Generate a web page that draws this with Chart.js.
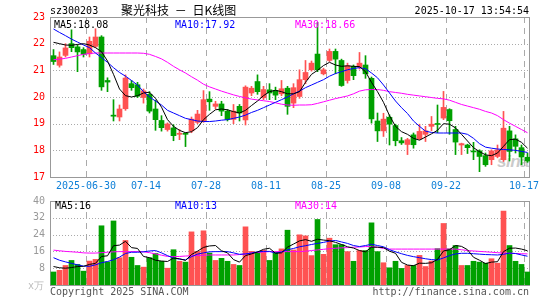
<!DOCTYPE html>
<html><head><meta charset="utf-8">
<script src="https://cdn.jsdelivr.net/npm/chart.js@4.4.1/dist/chart.umd.min.js"></script>
<style>
html,body{margin:0;padding:0;background:#fff;}
#wrap{position:relative;width:545px;height:300px;overflow:hidden;background:#fff;}
canvas{position:absolute;left:0;}
.t{position:absolute;font-family:"DejaVu Sans Mono",monospace;font-size:10px;line-height:12px;white-space:nowrap;}
.wm{position:absolute;left:497px;top:152px;font:italic bold 17px "Liberation Sans",Arial,sans-serif;color:rgba(185,185,185,0.75);letter-spacing:-0.5px;}
</style></head><body>
<div id="wrap">
 <div class="wm">sina</div>
 <canvas id="pc" width="545" height="196" style="top:0"></canvas>
 <canvas id="vc" width="545" height="120" style="top:180px"></canvas>
 <div class="t" style="left:50px;top:5px;color:#000">sz300203</div>
 <div class="t" style="left:121px;top:3px;font-family:'Noto Sans CJK SC',sans-serif;font-size:12px;line-height:14px;color:#000;word-spacing:3px">聚光科技 － 日K线图</div>
 <div class="t" style="right:16px;top:5px;color:#000">2025-10-17 13:54:54</div>
 <div class="t" style="left:54px;top:19px;color:#000">MA5:18.08</div>
 <div class="t" style="left:175px;top:19px;color:#0000ff">MA10:17.92</div>
 <div class="t" style="left:295px;top:19px;color:#ff00ff">MA30:18.66</div>
 <div class="t" style="left:55px;top:200px;color:#000">MA5:16</div>
 <div class="t" style="left:175px;top:200px;color:#0000ff">MA10:13</div>
 <div class="t" style="left:295px;top:200px;color:#ff00ff">MA30:14</div>
 <div class="t" style="left:28px;top:280px;color:#bbb">x万</div>
 <div class="t" style="left:50px;top:286px;color:#555">Copyright 2025 SINA.COM</div>
 <div class="t" style="right:16px;top:286px;color:#555">http://finance.sina.com.cn</div>
</div>
<script>
const dates = ['06-20','06-23','06-24','06-25','06-26','06-27','06-30',
 '07-01','07-02','07-03','07-04','07-07','07-08','07-09','07-10','07-11','07-14','07-15','07-16','07-17','07-18','07-21','07-22','07-23','07-24','07-25','07-28','07-29','07-30','07-31',
 '08-01','08-04','08-05','08-06','08-07','08-08','08-11','08-12','08-13','08-14','08-15','08-18','08-19','08-20','08-21','08-22','08-25','08-26','08-27','08-28','08-29',
 '09-01','09-02','09-03','09-04','09-05','09-08','09-09','09-10','09-11','09-12','09-15','09-16','09-17','09-18','09-19','09-22','09-23','09-24','09-25','09-26','09-29','09-30',
 '10-09','10-10','10-13','10-14','10-15','10-16','10-17'];
const tickDates  = ['06-30','07-14','07-28','08-11','08-25','09-08','09-22','10-17'];
const tickLabels = ['2025-06-30','07-14','07-28','08-11','08-25','09-08','09-22','10-17'];
const priceTicks = [17,18,19,20,21,22,23];
const volTicks = [0,8,16,24,32,40];

const open = [21.55,21.19,21.56,22.0,21.88,21.78,21.62,21.9,22.25,20.62, 19.32,19.25,19.56,20.5,20.46,19.98,20.1,19.55,19.12,18.78,
 18.84,18.6,18.63,18.73,19.05,19.1,19.92,19.65,19.74,19.47, 19.16,19.65,19.14,20.15,20.58,19.97,20.27,20.25,20.12,20.33,
 19.77,20.02,20.65,21.02,21.61,20.87,21.37,21.71,21.37,20.62, 21.15,21.12,21.2,20.7,19.1,18.73,19.24,18.93,18.36,18.22,
 18.58,18.43,18.6,18.9,19.0,19.21,19.53,18.78,18.2,18.2, 17.97,17.98,17.8,17.65,17.77,17.65,18.73,18.43,18.1,17.74];
const high = [21.78,21.69,22.0,22.52,21.95,21.85,22.25,22.56,22.3,20.72, 19.9,19.7,20.83,20.62,20.55,20.3,20.2,19.88,19.3,19.03,
 18.96,18.78,18.66,19.25,19.5,20.24,20.2,19.84,19.84,19.53, 19.72,19.72,20.42,20.4,20.83,20.4,20.5,20.37,20.62,20.4,
 20.5,21.02,21.37,21.35,22.8,21.08,21.8,21.8,21.42,21.27, 21.2,21.67,21.55,20.75,19.4,19.39,19.33,18.98,18.48,18.45,
 18.65,18.98,18.9,19.27,19.7,20.21,19.56,18.9,18.27,18.23, 18.3,18.02,17.9,18.02,18.2,19.46,18.9,18.58,18.2,17.9];
const low = [21.22,21.12,21.5,21.7,20.95,21.5,21.5,21.85,20.25,20.2, 19.1,19.1,19.5,20.25,19.98,19.77,19.4,18.75,18.72,18.72,
 18.36,18.4,18.14,18.66,19.0,19.05,19.5,19.55,19.3,19.1, 19.0,19.1,18.95,20.05,20.1,19.9,19.9,19.9,20.05,19.35,
 19.6,19.95,20.5,20.97,20.95,20.83,21.33,20.87,20.4,20.52, 20.65,21.05,20.7,19.02,18.33,18.52,18.2,18.17,18.22,17.84,
 18.08,18.4,18.33,18.73,18.66,19.15,18.6,17.84,17.84,17.88, 17.65,17.2,17.4,17.46,17.72,17.58,17.6,17.9,17.46,17.55];
const close = [21.33,21.5,21.84,21.85,21.69,21.6,22.09,22.25,20.38,20.56, 19.28,19.55,20.71,20.35,20.03,20.23,19.47,19.15,18.85,18.99,
 18.55,18.64,18.6,19.17,19.36,19.9,19.82,19.74,19.47,19.16, 19.47,19.4,20.37,20.33,20.2,20.28,20.15,20.07,20.31,19.65,
 20.35,20.65,20.92,21.27,21.02,21.02,21.71,21.42,20.43,21.17, 20.8,21.27,20.87,19.18,18.73,19.17,18.98,18.36,18.28,18.4,
 18.21,18.71,18.73,18.98,18.97,19.61,19.11,18.31,18.25,18.1, 17.94,17.77,17.46,17.98,18.02,18.83,17.96,18.15,17.75,17.6];
const ma5 = [22.05,22.0,21.95,21.94,21.97,22.0,21.95,21.85,21.7,21.35, 20.85,20.3,20.05,20.0,20.05,20.15,20.18,19.95,19.62,19.15,
 18.9,18.75,18.66,18.7,18.85,19.15,19.35,19.52,19.55,19.52, 19.45,19.4,19.5,19.68,19.85,20.05,20.2,20.25,20.2,20.12,
 20.12,20.2,20.55,20.85,21.0,21.18,21.3,21.2,21.15,21.17, 21.15,21.14,20.95,20.55,20.2,19.8,19.3,18.9,18.7,18.6,
 18.45,18.38,18.5,18.62,18.75,19.0,18.98,18.84,18.6,18.35, 18.1,17.95,17.83,17.8,17.9,18.15,18.4,18.42,18.3,18.08];
const ma10 = [22.55,22.42,22.3,22.17,22.06,21.95,21.85,21.65,21.48,21.3, 21.1,20.92,20.78,20.62,20.45,20.2,20.0,19.85,19.7,19.5,
 19.4,19.3,19.2,19.15,19.1,19.08,19.08,19.1,19.13,19.15, 19.2,19.25,19.32,19.42,19.5,19.6,19.7,19.8,19.9,20.0,
 20.12,20.22,20.35,20.45,20.55,20.65,20.78,20.88,20.95,21.02, 21.07,21.1,21.06,20.9,20.72,20.45,20.15,19.85,19.6,19.38,
 19.1,18.9,18.72,18.67,18.65,18.65,18.65,18.65,18.65,18.6, 18.45,18.25,18.12,18.08,18.05,18.03,18.02,18.0,17.96,17.92];
const ma30 = [21.4,21.42,21.45,21.5,21.55,21.6,21.63,21.65,21.65,21.65, 21.65,21.65,21.65,21.65,21.65,21.64,21.6,21.52,21.43,21.3,
 21.15,21.02,20.9,20.76,20.63,20.48,20.38,20.3,20.22,20.15, 20.08,20.02,19.97,19.92,19.89,19.86,19.83,19.78,19.73,19.7,
 19.69,19.7,19.7,19.71,19.76,19.82,19.88,19.94,19.99,20.04, 20.12,20.22,20.27,20.28,20.28,20.25,20.2,20.17,20.14,20.1,
 20.07,20.04,20.01,19.98,19.95,19.93,19.88,19.8,19.72,19.66, 19.6,19.54,19.46,19.4,19.3,19.15,19.02,18.9,18.78,18.66];
const volume = [6.2,7.0,9.3,11.7,9.8,6.6,11.4,12.2,28.2,11.0, 30.5,13.0,21.2,13.2,9.3,8.5,13.0,15.0,11.3,8.0,
 16.8,11.3,10.9,25.3,16.0,25.8,15.2,11.7,12.7,11.3, 9.8,9.3,27.7,16.0,15.6,16.5,11.7,15.5,17.2,26.1,
 16.7,23.9,23.4,14.0,31.2,14.6,22.3,19.2,19.2,15.9, 11.3,16.4,16.4,29.6,15.9,10.6,8.2,11.3,7.9,9.3,
 9.3,14.1,8.8,11.4,17.3,29.3,17.2,18.8,9.3,9.3, 11.3,10.9,10.4,12.5,10.4,35.2,18.8,11.3,9.8,6.2];
const volMa5 = [8.8,8.2,8.0,8.3,8.8,8.9,9.8,10.3,13.6,13.9, 18.7,19.0,20.8,17.8,17.4,13.6,13.0,11.8,11.4,11.2,
 12.8,12.5,11.7,14.5,16.1,17.9,18.6,18.8,16.3,15.3, 12.1,10.9,14.0,14.8,15.7,17.0,17.5,15.1,15.3,18.0,
 19.5,21.0,21.6,20.8,21.8,21.4,21.1,20.3,19.3,18.2, 17.6,16.4,15.8,18.0,18.0,17.8,16.1,15.1,10.8,9.5,
 9.2,10.4,10.3,10.6,12.2,16.2,16.8,18.8,18.4,16.8, 13.2,11.8,10.2,10.9,11.1,15.9,17.5,17.6,17.1,16.3];
const volMa10 = [13.0,11.8,11.0,10.3,9.6,9.0,8.9,9.6,10.6,11.2, 12.0,13.3,15.0,15.6,15.6,15.8,16.2,16.4,15.3,14.0,
 12.8,12.3,12.0,13.5,14.7,15.3,15.8,15.9,15.9,15.9, 15.3,14.6,14.8,15.2,15.8,16.0,16.0,15.2,15.7,16.8,
 17.4,18.2,18.7,19.3,19.8,20.3,20.9,21.2,20.5,19.8, 18.8,18.3,18.8,19.4,18.8,18.2,16.8,15.8,14.9,14.1,
 13.5,13.0,12.5,12.1,11.9,12.9,14.0,14.8,15.1,15.1, 14.9,14.7,14.5,14.4,14.3,14.6,15.2,15.0,14.3,13.7];
const volMa30 = [16.6,16.3,16.0,15.8,15.6,15.3,15.2,15.2,15.4,15.6, 15.8,15.9,15.9,15.9,15.9,15.8,15.4,14.8,14.2,13.6,
 13.5,13.6,13.8,13.9,14.0,14.2,14.3,14.3,14.3,14.3, 14.3,14.5,14.8,15.3,15.5,15.7,15.9,15.9,15.9,15.9,
 15.9,15.9,16.1,16.4,16.7,17.0,17.3,17.5,17.7,17.8, 18.0,18.1,18.3,18.3,18.0,17.4,17.1,17.1,17.1,17.1,
 17.1,17.1,17.1,17.1,17.1,17.1,17.1,17.1,16.8,16.4, 16.2,16.0,15.8,15.6,15.4,15.2,15.1,15.0,14.9,14.8];

const RED = '#ff5252', GREEN = '#00a000';
const FONT = 'DejaVu Sans Mono';
const N = dates.length;
const IDX = dates.map((d, i) => i);
const tickIdx = tickDates.map(d => dates.indexOf(d));
const colors = IDX.map(i => close[i] >= open[i] ? RED : GREEN);
const SHIFT = 0.5 / 6;
const xScale = { type: 'linear', min: -0.5 - SHIFT, max: N - 0.5 - SHIFT, display: false, offset: false };

function line(ctx, x1, y1, x2, y2) { ctx.beginPath(); ctx.moveTo(x1, y1); ctx.lineTo(x2, y2); ctx.stroke(); }

function decoPlugin(hTicks, withLabels) {
  return {
    id: 'deco',
    beforeDatasetsDraw(chart) {
      const { ctx, chartArea: a, scales: { x, y } } = chart;
      ctx.save();
      ctx.lineWidth = 1;
      ctx.strokeStyle = '#aaa';
      ctx.setLineDash([1, 2]);
      hTicks.forEach(v => {
        const py = Math.round(y.getPixelForValue(v)) + 0.5;
        line(ctx, a.left, py, a.right, py);
      });
      ctx.setLineDash([6, 5]);
      tickIdx.forEach(i => {
        const px = Math.floor(x.getPixelForValue(i - 0.5)) + 0.5;
        line(ctx, px, a.top, px, a.bottom);
      });
      ctx.setLineDash([]);
      ctx.strokeStyle = '#999';
      const L = Math.round(a.left) + 0.5, R = Math.round(a.right) - 0.5;
      const T = Math.round(a.top) + 0.5, B = Math.round(a.bottom) + 0.5;
      ctx.strokeRect(L, T, R - L, B - T);
      ctx.restore();
    },
    afterDraw(chart) {
      if (!withLabels) return;
      const { ctx, chartArea: a, scales: { x } } = chart;
      ctx.save();
      ctx.fillStyle = '#1080d8';
      ctx.font = '10px "' + FONT + '"';
      ctx.textAlign = 'center';
      ctx.textBaseline = 'middle';
      tickIdx.forEach((i, k) => {
        const px = Math.floor(x.getPixelForValue(i - 0.5));
        ctx.fillText(tickLabels[k], px, a.bottom + 9.5);
      });
      ctx.restore();
    }
  };
}

function lineDs(data, color) {
  return { type: 'line', data: IDX.map(i => ({ x: i, y: data[i] })), borderColor: color, borderWidth: 1,
    pointRadius: 0, tension: 0, fill: false, order: 0 };
}

const common = {
  responsive: false, animation: false, devicePixelRatio: 1,
  plugins: { legend: { display: false }, tooltip: { enabled: false } },
  events: []
};

new Chart(document.getElementById('pc'), {
  type: 'bar',
  data: { datasets: [
    lineDs(ma5, '#000000'),
    lineDs(ma10, '#0000ff'),
    lineDs(ma30, '#ff00ff'),
    { data: IDX.map(i => ({ x: i, y: [Math.min(open[i], close[i]), Math.max(open[i], close[i])] })),
      backgroundColor: colors, barThickness: 5, minBarLength: 1, grouped: false, order: 1, borderWidth: 0 },
    { data: IDX.map(i => ({ x: i, y: [low[i], high[i]] })),
      backgroundColor: colors, barThickness: 1, grouped: false, order: 2, borderWidth: 0 }
  ] },
  options: Object.assign({}, common, {
    layout: { padding: { top: 17, right: 15, bottom: 19, left: 0 } },
    scales: {
      x: xScale,
      y: { min: 17, max: 23, afterFit: s => { s.width = 50; },
        afterBuildTicks: s => { s.ticks = priceTicks.map(v => ({ value: v })); },
        grid: { display: false, drawTicks: false }, border: { display: false },
        ticks: { color: '#ff0000', padding: 5, font: { family: FONT, size: 10 } } }
    }
  }),
  plugins: [decoPlugin([18, 19, 20, 21, 22], true)]
});

new Chart(document.getElementById('vc'), {
  type: 'bar',
  data: { datasets: [
    lineDs(volMa5, '#000000'),
    lineDs(volMa10, '#0000ff'),
    lineDs(volMa30, '#ff00ff'),
    { data: IDX.map(i => ({ x: i, y: volume[i] })),
      backgroundColor: colors, barThickness: 5, grouped: false, order: 1, borderWidth: 0 }
  ] },
  options: Object.assign({}, common, {
    layout: { padding: { top: 21, right: 15, bottom: 15, left: 0 } },
    scales: {
      x: xScale,
      y: { min: 0, max: 40, afterFit: s => { s.width = 50; },
        afterBuildTicks: s => { s.ticks = volTicks.map(v => ({ value: v })); },
        grid: { display: false, drawTicks: false }, border: { display: false },
        ticks: { color: '#999', padding: 5, font: { family: FONT, size: 10 },
          callback: v => v === 0 ? '' : String(v) } }
    }
  }),
  plugins: [decoPlugin([8, 16, 24, 32], false)]
});
</script>
</body></html>
